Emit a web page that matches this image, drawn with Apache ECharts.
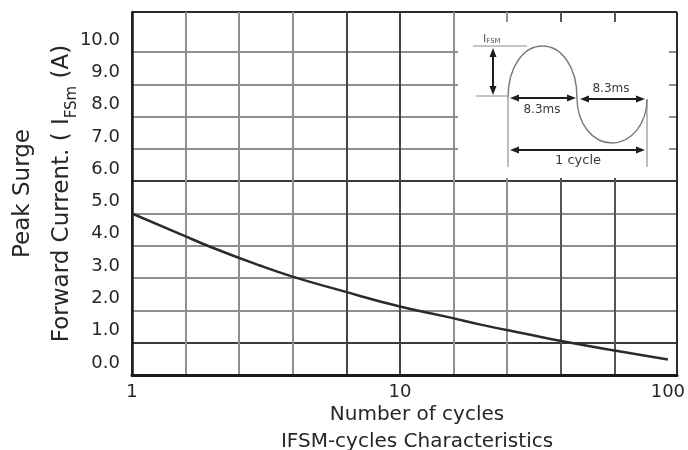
<!DOCTYPE html>
<html><head><meta charset="utf-8">
<script src="https://cdn.jsdelivr.net/npm/echarts@6/dist/echarts.min.js"></script>
<style>html,body{margin:0;padding:0;background:#fff}#c{width:688px;height:450px}</style>
</head><body><div id="c"></div>
<script>
// Data
const cycles = [1, 1.5, 2, 3, 4, 6, 10, 15, 20, 30, 40, 60, 100];
const peakCurrent = [5.0, 4.38, 3.94, 3.39, 3.04, 2.62, 2.12, 1.80, 1.56, 1.26, 1.05, 0.79, 0.48];
const xTickLabels = ['1', '10', '100'];
const yTickLabels = ['0.0', '1.0', '2.0', '3.0', '4.0', '5.0', '6.0', '7.0', '8.0', '9.0', '10.0'];
const xTitle = 'Number of cycles';
const chartTitle = 'IFSM-cycles Characteristics';

const FONT = '"DejaVu Sans", sans-serif';
const TXT = '#262626';
const GRAY = '#8f8f8f';
const DARK = '#3a3a3a';
const NONE = 'rgba(0,0,0,0)';

const chart = echarts.init(document.getElementById('c'), null, {renderer: 'canvas'});

const seriesData = cycles.map((c, i) => [Math.log10(c), peakCurrent[i]]);

function arrowH(x1, x2, y) {
  return [
    {type: 'line', z: 20, shape: {x1: x1 + 6, y1: y, x2: x2 - 6, y2: y}, style: {stroke: '#1e1e1e', lineWidth: 2}},
    {type: 'polygon', z: 20, shape: {points: [[x1, y], [x1 + 9, y - 3.5], [x1 + 9, y + 3.5]]}, style: {fill: '#1e1e1e'}},
    {type: 'polygon', z: 20, shape: {points: [[x2, y], [x2 - 9, y - 3.5], [x2 - 9, y + 3.5]]}, style: {fill: '#1e1e1e'}}
  ];
}
function arrowV(x, y1, y2) {
  return [
    {type: 'line', z: 20, shape: {x1: x, y1: y1 + 6, x2: x, y2: y2 - 6}, style: {stroke: '#1e1e1e', lineWidth: 2}},
    {type: 'polygon', z: 20, shape: {points: [[x, y1], [x - 3.5, y1 + 9], [x + 3.5, y1 + 9]]}, style: {fill: '#1e1e1e'}},
    {type: 'polygon', z: 20, shape: {points: [[x, y2], [x - 3.5, y2 - 9], [x + 3.5, y2 - 9]]}, style: {fill: '#1e1e1e'}}
  ];
}
function label(text, x, y, size) {
  return {type: 'text', z: 21, x: x, y: y, style: {text: text, fill: '#3a3a3a', font: size + 'px ' + FONT,
    align: 'center', verticalAlign: 'middle', textAlign: 'center', textVerticalAlign: 'middle'}};
}

const inset = [
  {type: 'rect', z: 10, shape: {x: 458, y: 22, width: 211, height: 156}, style: {fill: '#fff'}},
  {type: 'line', z: 20, shape: {x1: 473, y1: 46, x2: 527, y2: 46}, style: {stroke: '#8a8a8a', lineWidth: 1}},
  {type: 'line', z: 20, shape: {x1: 476, y1: 96, x2: 507, y2: 96}, style: {stroke: '#8a8a8a', lineWidth: 1}},
  {type: 'text', z: 21, x: 483, y: 45, style: {text: '{a|I}{b|FSM}', fill: '#555',
    align: 'left', verticalAlign: 'bottom', textAlign: 'left', textVerticalAlign: 'bottom',
    rich: {a: {fontSize: 11, fontFamily: FONT, fill: '#555', color: '#555'}, b: {fontSize: 7, fontFamily: FONT, fill: '#555', color: '#555', verticalAlign: 'bottom'}}}},
  {type: 'line', z: 20, shape: {x1: 508, y1: 98, x2: 508, y2: 167}, style: {stroke: '#a8a8a8', lineWidth: 1.5}},
  {type: 'line', z: 20, shape: {x1: 647, y1: 100, x2: 647, y2: 167}, style: {stroke: '#a8a8a8', lineWidth: 1.5}},
  {type: 'bezierCurve', z: 20, shape: {x1: 508, y1: 98, cpx1: 508, cpy1: 66, cpx2: 524, cpy2: 46, x2: 542.5, y2: 46}, style: {stroke: '#7a7a7a', lineWidth: 1.4, fill: null}},
  {type: 'bezierCurve', z: 20, shape: {x1: 542.5, y1: 46, cpx1: 561, cpy1: 46, cpx2: 577, cpy2: 66, x2: 577, y2: 98}, style: {stroke: '#7a7a7a', lineWidth: 1.4, fill: null}},
  {type: 'bezierCurve', z: 20, shape: {x1: 577, y1: 98, cpx1: 577, cpy1: 124, cpx2: 593, cpy2: 143, x2: 612, y2: 143}, style: {stroke: '#7a7a7a', lineWidth: 1.4, fill: null}},
  {type: 'bezierCurve', z: 20, shape: {x1: 612, y1: 143, cpx1: 631, cpy1: 143, cpx2: 647, cpy2: 124, x2: 647, y2: 99}, style: {stroke: '#7a7a7a', lineWidth: 1.4, fill: null}}
]
  .concat(arrowV(493, 48, 95))
  .concat(arrowH(510, 576, 98))
  .concat(arrowH(580, 645, 99))
  .concat(arrowH(510, 645, 150))
  .concat([label('8.3ms', 542, 110, 12), label('8.3ms', 611, 89, 12), label('1 cycle', 578, 161, 13)]);

const option = {
  animation: false,
  backgroundColor: '#fff',
  grid: {left: 132, right: 11, top: 12, bottom: 75, containLabel: false, outerBoundsMode: 'none'},
  xAxis: {
    type: 'value', min: 0, max: 2.034, interval: 0.2,
    name: '{a|' + xTitle + '}\n{a|' + chartTitle + '}',
    nameLocation: 'middle', nameGap: 26, nameMoveOverlap: false,
    nameTextStyle: {padding: [0, 0, 0, 25], rich: {a: {fontSize: 20, fontFamily: FONT, color: TXT, lineHeight: 27, align: 'center'}}},
    axisLine: {show: true, lineStyle: {color: '#1a1a1a', width: 3}},
    axisTick: {show: false},
    axisLabel: {
      fontSize: 18, fontFamily: FONT, color: TXT, margin: 8,
      formatter: function (v) {
        const k = Math.round(v);
        return (Math.abs(v - k) < 1e-6 && k >= 0 && k < xTickLabels.length) ? xTickLabels[k] : '';
      }
    },
    splitLine: {show: true, lineStyle: {width: 2,
      color: [DARK, GRAY, GRAY, GRAY, '#444', '#444', GRAY, GRAY, '#555', '#555', NONE, '#2a2a2a']}}
  },
  yAxis: {
    type: 'value', min: 0, max: 11.24, interval: 1,
    name: '{a|Peak Surge}\n{a|Forward Current. ( I}{s|FSm}{a| (A)}',
    nameLocation: 'middle', nameRotate: 90, nameGap: 50, nameMoveOverlap: false,
    nameTextStyle: {rich: {
      a: {fontSize: 23, fontFamily: FONT, color: TXT, lineHeight: 39},
      s: {fontSize: 15, fontFamily: FONT, color: TXT, lineHeight: 39, verticalAlign: 'bottom', padding: [0, 0, 2, 0]}
    }},
    axisLine: {show: true, lineStyle: {color: '#1a1a1a', width: 2.5}},
    axisTick: {show: false},
    axisLabel: {
      fontSize: 18, fontFamily: FONT, color: TXT, margin: 12, verticalAlign: 'bottom', padding: [0, 0, 3, 0],
      formatter: function (v) {
        const k = Math.round(v);
        return (Math.abs(v - k) < 1e-6 && k >= 0 && k < yTickLabels.length) ? yTickLabels[k] : '';
      }
    },
    splitLine: {show: true, lineStyle: {width: 2,
      color: [DARK, DARK, GRAY, GRAY, GRAY, GRAY, DARK, GRAY, GRAY, GRAY, GRAY, NONE, '#2a2a2a']}}
  },
  series: [{
    type: 'line', data: seriesData, smooth: true, showSymbol: false, symbol: 'none',
    lineStyle: {color: '#2b2b2b', width: 2.5}, z: 5
  }],
  graphic: {elements: inset}
};
chart.setOption(option);
</script>
</body></html>
